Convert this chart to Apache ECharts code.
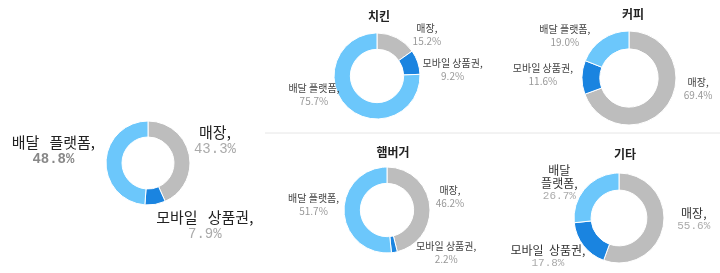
<!DOCTYPE html>
<html><head><meta charset="utf-8">
<script src="https://cdn.jsdelivr.net/npm/echarts@6/dist/echarts.min.js"></script>
<style>html,body{margin:0;padding:0;background:#fff}#c{width:720px;height:273px}</style>
</head><body><div id="c"></div>
<script>
const categories = ['매장', '모바일 상품권', '배달 플랫폼'];
const totalValues = [43.3, 7.9, 48.8];
const chickenValues = [15.2, 9.2, 75.7];
const coffeeValues = [69.4, 11.6, 19.0];
const burgerValues = [46.2, 2.2, 51.7];
const etcValues = [55.6, 17.8, 26.7];
const panelTitles = ['치킨', '커피', '햄버거', '기타'];
const colors = ['#bdbdbd', '#1a84e0', '#6cc7fb'];

// label nudges [dx, dy] per series / data item
const labelNudge = [
  [[-6, -12], [-5, 16], [0, -10]],
  [[9, 0], [-4, 9], [0, -15]],
  [[8, -18], [0, -3], [-5, 0]],
  [[-3, -8], [16, -4], [4, -8]],
  [[5, -7], [10, 8], [0, -2]]
];

const chart = echarts.init(document.getElementById('c'));
const KR = '"Noto Sans CJK KR", sans-serif';
const MONO = '"Liberation Mono", monospace';

function mk(values) {
  return categories.map((c, i) => ({ name: c, value: values[i] }));
}
function fmtP(v) { return v.toFixed(1) + '%'; }

const smallLabel = {
  show: true, position: 'outside',
  formatter: p => '{n|' + (p.name) + ',}\n{p|' + fmtP(p.value) + '}',
  rich: {
    n: { fontFamily: KR, fontSize: 10, color: '#444', lineHeight: 13, align: 'center' },
    p: { fontFamily: KR, fontSize: 10, color: '#999', lineHeight: 13, align: 'center' }
  }
};

function smallSeries(values, center, r, label) {
  return {
    type: 'pie', center: center, radius: [r * 0.62, r], startAngle: 90, clockwise: true,
    data: mk(values), color: colors, silent: true,
    itemStyle: { borderColor: '#fff', borderWidth: 1 },
    label: label || smallLabel,
    labelLine: { show: false, length: 4, length2: 0 },
    labelLayout: nudge,
    emphasis: { disabled: true }
  };
}
function nudge(params) {
  const n = labelNudge[params.seriesIndex][params.dataIndex];
  return { dx: n[0], dy: n[1] };
}
function etcName(p) {
  const parts = p.name.split(' ');
  if (p.dataIndex === 2) return '{n|' + parts[0] + '}\n{n|' + parts[1] + ',}';
  return '{n|' + parts.join('  ') + ',}';
}

chart.setOption({
  animation: false,
  title: [
    { text: panelTitles[0], left: 374, top: 5, textAlign: 'center', textStyle: { fontFamily: KR, fontSize: 12, fontWeight: 'bold', color: '#222' } },
    { text: panelTitles[1], left: 628, top: 3, textAlign: 'center', textStyle: { fontFamily: KR, fontSize: 12, fontWeight: 'bold', color: '#222' } },
    { text: panelTitles[2], left: 388, top: 141, textAlign: 'center', textStyle: { fontFamily: KR, fontSize: 12, fontWeight: 'bold', color: '#222' } },
    { text: panelTitles[3], left: 620, top: 143, textAlign: 'center', textStyle: { fontFamily: KR, fontSize: 12, fontWeight: 'bold', color: '#222' } }
  ],
  graphic: [
    { type: 'line', shape: { x1: 265, y1: 133, x2: 720, y2: 133 }, style: { stroke: '#e6e6e6', lineWidth: 1 }, silent: true }
  ],
  series: [
    {
      type: 'pie', center: [148, 163], radius: [26, 42], startAngle: 90, clockwise: true,
      data: mk(totalValues), color: colors, silent: true,
      itemStyle: { borderColor: '#fff', borderWidth: 1 },
      label: {
        show: true, position: 'outside',
        formatter: p => '{n|' + p.name.replace(' ', '   ') + ',}\n{' + (p.dataIndex === 2 ? 'b' : 'p') + '|' + fmtP(p.value) + '}',
        rich: {
          n: { fontFamily: KR, fontSize: 15, color: '#222', lineHeight: 17, align: 'center' },
          p: { fontFamily: MONO, fontSize: 14, color: '#aaa', lineHeight: 17, align: 'center' },
          b: { fontFamily: MONO, fontSize: 14, color: '#888', lineHeight: 17, align: 'center', fontWeight: 'bold' }
        }
      },
      labelLine: { show: false, length: 6, length2: 0 },
      labelLayout: nudge,
      emphasis: { disabled: true }
    },
    smallSeries(chickenValues, [377, 76], 43),
    smallSeries(coffeeValues, [629, 78], 47),
    smallSeries(burgerValues, [387, 210], 43),
    smallSeries(etcValues, [619, 218], 45, {
      show: true, position: 'outside',
      formatter: p => etcName(p) + '\n{p|' + fmtP(p.value) + '}',
      rich: {
        n: { fontFamily: KR, fontSize: 12, color: '#333', lineHeight: 13, align: 'center' },
        p: { fontFamily: MONO, fontSize: 11, color: '#aaa', lineHeight: 12, align: 'center' }
      }
    })
  ]
});
</script></body></html>
